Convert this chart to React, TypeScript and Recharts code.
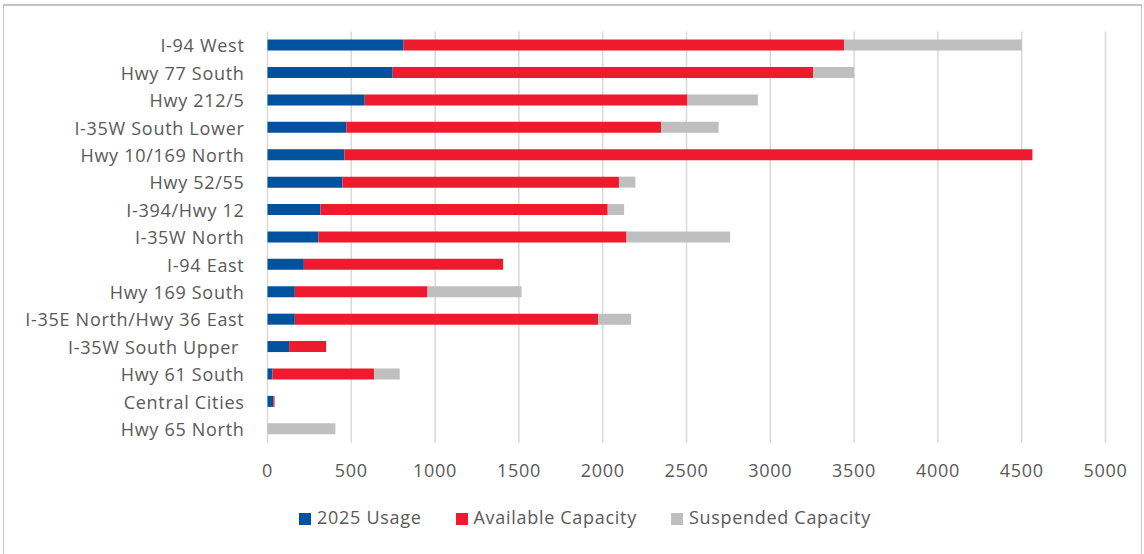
import React from 'react';
import { BarChart, Bar, XAxis, YAxis, CartesianGrid, Legend } from 'recharts';

const categories = [
  'I-94 West',
  'Hwy 77 South',
  'Hwy 212/5',
  'I-35W South Lower',
  'Hwy 10/169 North',
  'Hwy 52/55',
  'I-394/Hwy 12',
  'I-35W North',
  'I-94 East',
  'Hwy 169 South',
  'I-35E North/Hwy 36 East',
  'I-35W South Upper ',
  'Hwy 61 South',
  'Central Cities',
  'Hwy 65 North',
];

const usage2025 = [812, 747, 580, 471, 459, 447, 316, 304, 217, 163, 163, 129, 30, 34, 0];
const availableCapacity = [2628, 2508, 1926, 1879, 4105, 1650, 1714, 1838, 1189, 792, 1809, 221, 606, 8, 0];
const suspendedCapacity = [1060, 245, 420, 342, 0, 98, 98, 618, 0, 561, 198, 0, 153, 0, 405];

const xTicks = [0, 500, 1000, 1500, 2000, 2500, 3000, 3500, 4000, 4500, 5000];

const seriesNames = ['2025 Usage', 'Available Capacity', 'Suspended Capacity'];
const seriesColors = ['#00529f', '#ee1b2e', '#bfbfbf'];

const data = categories.map((name, i) => ({
  name,
  usage: usage2025[i],
  available: availableCapacity[i],
  suspended: suspendedCapacity[i],
}));

const FONT = '"Open Sans", "Noto Sans", sans-serif';
const TEXT = '#595959';
const LS = 0.7;

const CategoryTick = (props: any) => {
  const { x, y, payload } = props;
  return (
    <text
      x={x}
      y={y}
      textAnchor="end"
      dominantBaseline="central"
      fill={TEXT}
      fontSize={18}
      fontFamily={FONT}
      letterSpacing={LS}
      style={{ whiteSpace: 'pre' }}
    >
      {payload.value}
    </text>
  );
};

const LegendContent = (props: any) => {
  const { payload } = props;
  return (
    <div
      style={{
        display: 'flex',
        justifyContent: 'center',
        paddingLeft: 26,
        fontFamily: FONT,
        fontSize: 18,
        letterSpacing: LS,
        color: TEXT,
        lineHeight: '22px',
      }}
    >
      {(payload || []).map((p: any, i: number) => (
        <div key={i} style={{ display: 'flex', alignItems: 'center', marginRight: i < 2 ? 34 : 0 }}>
          <span style={{ display: 'inline-block', width: 12, height: 12, background: p.color, marginRight: 6, marginTop: 3 }} />
          <span>{p.value}</span>
        </div>
      ))}
    </div>
  );
};

export default function App() {
  return (
    <div style={{ position: 'absolute', left: 0, top: 0, width: 1144, height: 554, background: '#fff' }}>
      <div
        style={{
          position: 'absolute',
          left: 3,
          top: 4,
          width: 1137,
          height: 548,
          border: '1px solid #c4c4c4',
          borderTop: '2px solid #c4c4c4',
        }}
      />
      <BarChart
        width={1144}
        height={554}
        data={data}
        layout="vertical"
        margin={{ top: 31.6, right: 38.5, bottom: 71.3, left: 0 }}
        barSize={11}
      >
        <CartesianGrid horizontal={false} stroke="#d9d9d9" strokeWidth={1.5} />
        <XAxis
          type="number"
          domain={[0, 5000]}
          ticks={xTicks}
          interval={0}
          axisLine={false}
          tickLine={false}
          tickSize={6}
          tickMargin={16}
          height={40}
          tick={{ fill: TEXT, fontSize: 18, fontFamily: FONT, letterSpacing: LS }}
        />
        <YAxis
          type="category"
          dataKey="name"
          width={267.5}
          axisLine={false}
          tickLine={false}
          interval={0}
          tickSize={6}
          tickMargin={17}
          tick={<CategoryTick />}
        />
        <Legend
          layout="horizontal"
          verticalAlign="middle"
          align="center"
          wrapperStyle={{ top: 506, left: 0, width: 1144 }}
          content={<LegendContent />}
        />
        <Bar dataKey="usage" name={seriesNames[0]} stackId="a" fill={seriesColors[0]} isAnimationActive={false} />
        <Bar dataKey="available" name={seriesNames[1]} stackId="a" fill={seriesColors[1]} isAnimationActive={false} />
        <Bar dataKey="suspended" name={seriesNames[2]} stackId="a" fill={seriesColors[2]} isAnimationActive={false} />
      </BarChart>
    </div>
  );
}
